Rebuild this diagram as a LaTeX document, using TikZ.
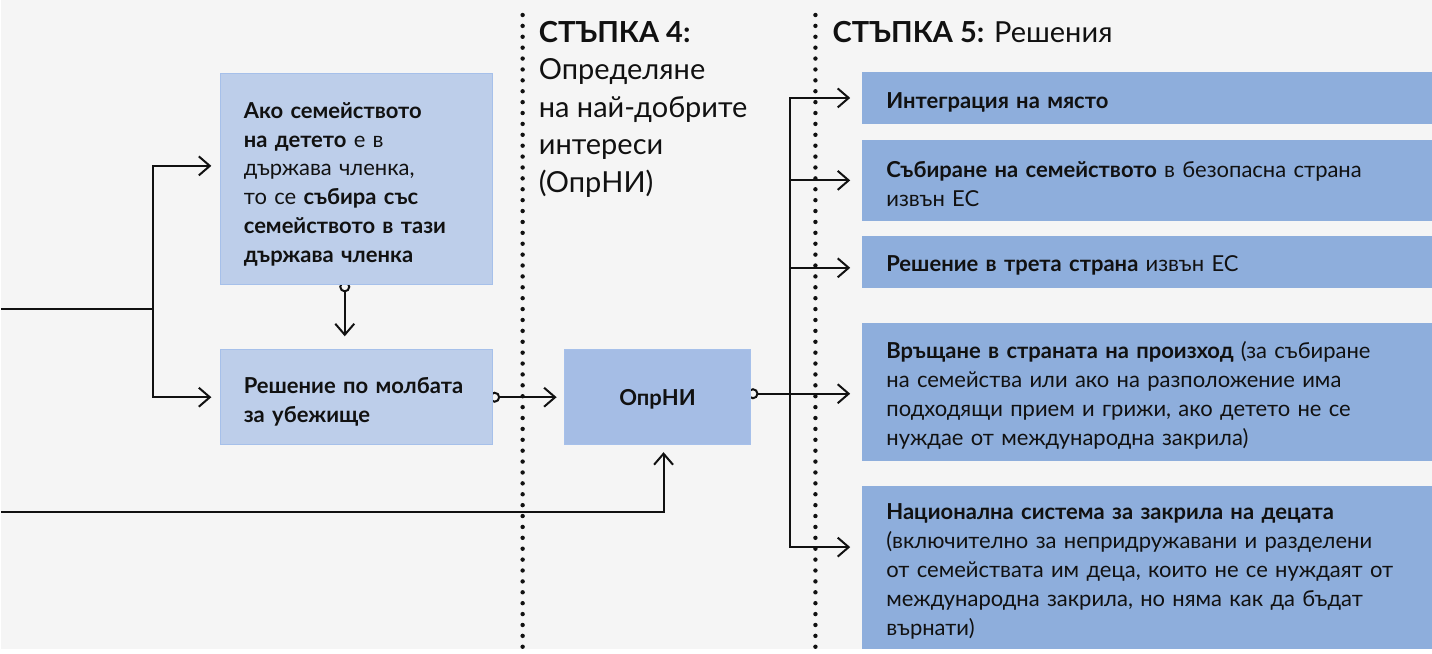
\documentclass[tikz,border=0pt]{standalone}
\usepackage{fontspec}
\setmainfont{Lato}
\usetikzlibrary{arrows.meta,calc}
\definecolor{bgc}{HTML}{F5F5F5}
\definecolor{boxA}{HTML}{BDCEEA}
\definecolor{boxAline}{HTML}{A6C0EA}
\definecolor{boxO}{HTML}{A5BDE5}
\definecolor{boxR}{HTML}{8EAEDC}
\definecolor{ink}{HTML}{111111}
\pgfdeclarelayer{back}
\pgfdeclarelayer{bg}
\pgfsetlayers{back,bg,main}
\begin{document}
\begin{tikzpicture}[x=1pt,y=-1pt,
  boxtext/.style={font=\fontsize{22}{29}\selectfont, text=ink},
  lbox/.style={boxtext, draw=boxAline, fill=boxA, line width=1pt, align=left,
    inner xsep=23pt, inner ysep=0pt, text width=226pt, anchor=center,
    execute at begin node={\rule{0pt}{26pt}}},
  obox/.style={boxtext, draw=boxAline, fill=boxO, line width=1pt, align=center,
    minimum width=187pt, minimum height=95pt, anchor=center, text depth=0pt,
    font=\fontsize{22}{29}\selectfont\bfseries},
  rbox/.style={boxtext, fill=boxR, align=left, inner xsep=24pt, inner ysep=0pt,
    text width=522pt, anchor=center, execute at begin node={\rule{0pt}{24pt}}},
  head/.style={font=\fontsize{29}{37.5}\selectfont, text=ink, align=left, inner sep=0pt, anchor=north west},
  conn/.style={line width=2pt, draw=ink},
  arr/.style={conn, -{Straight Barb[length=11pt,width=19pt]}},
  knob/.style={conn, fill=bgc},
  dotline/.style={line width=4.4pt, line cap=round, dash pattern=on 0pt off 10.9pt, draw=ink}
]
\begin{pgfonlayer}{back}
\path[use as bounding box, fill=bgc] (0,0) rectangle (1432,649);
\end{pgfonlayer}

% dotted separators
\draw[dotline] (522,15) -- (522,652);
\draw[dotline] (815,15) -- (815,652);

% headings
\node[head] (h4) at (538,21) {\textbf{СТЪПКА 4:}\\Определяне\\на най-добрите\\интереси\\(ОпрНИ)};
\node[head] (h5) at (832,21) {\textbf{СТЪПКА 5:} Решения};

% boxes
\node[lbox, minimum height=211pt] (A) at (356,179.5)
  {\textbf{Ако семейството}\\\textbf{на детето} е в\\държава членка,\\то се \textbf{събира със}\\\textbf{семейството в тази}\\\textbf{държава членка}};
\node[lbox, minimum height=95pt] (B) at (356,397.5)
  {\textbf{Решение по молбата}\\\textbf{за убежище}};
\node[obox] (O) at (657,397.5) {ОпрНИ};

\node[rbox, minimum height=52pt] (R1) at (1147,98) {\textbf{Интеграция на място}};
\node[rbox, minimum height=81pt] (R2) at (1147,180.5) {\textbf{Събиране на семейството} в безопасна страна\\извън ЕС};
\node[rbox, minimum height=52pt] (R3) at (1147,262) {\textbf{Решение в трета страна} извън ЕС};
\node[rbox, minimum height=138pt] (R4) at (1147,392) {\textbf{Връщане в страната на произход} (за събиране\\на семейства или ако на разположение има\\подходящи прием и грижи, ако детето не се\\нуждае от международна закрила)};
\node[rbox, minimum height=163pt] (R5) at (1147,567.5) {\textbf{Национална система за закрила на децата}\\(включително за непридружавани и разделени\\от семействата им деца, които не се нуждаят от\\международна закрила, но няма как да бъдат\\върнати)};

\begin{pgfonlayer}{bg}
\coordinate (in1) at (0,309);
\coordinate (j1) at (152,309);
\coordinate (in2) at (0,512);
\coordinate (j2) at (790,394);
\coordinate (kA) at ($(A.south)+(-12,1.5)$);
\coordinate (kB) at ($(B.east)+(1.5,0)$);
\coordinate (kO) at ($(O.east |- j2)+(1.5,0)$);
\draw[conn] (in1) -- (j1);
\draw[arr, shorten >=9pt] (j1) |- (A.west |- 0,166);
\draw[arr, shorten >=9pt] (j1) |- (B.west);
\draw[arr, shorten >=13pt] (kA) -- (B.north -| kA);
\draw[arr, shorten >=7pt] (kB) -- (O.west);
\draw[arr, shorten >=7pt] (in2) -| ($(O.south)+(6,0)$);
\draw[arr, shorten >=12pt] (kO) -- (R4.west |- j2);
\draw[arr, shorten >=12pt] (j2) |- (R1.west);
\draw[arr, shorten >=12pt] (j2) |- (R2.west);
\draw[arr, shorten >=12pt] (j2) |- ($(R3.west)+(0,6)$);
\draw[arr, shorten >=12pt] (j2) |- ($(R5.west)+(0,-20)$);
\draw[knob] (kA) circle[radius=4.5pt];
\draw[knob] (kB) circle[radius=4.5pt];
\draw[knob] (kO) circle[radius=4.5pt];
\end{pgfonlayer}
\end{tikzpicture}
\end{document}
